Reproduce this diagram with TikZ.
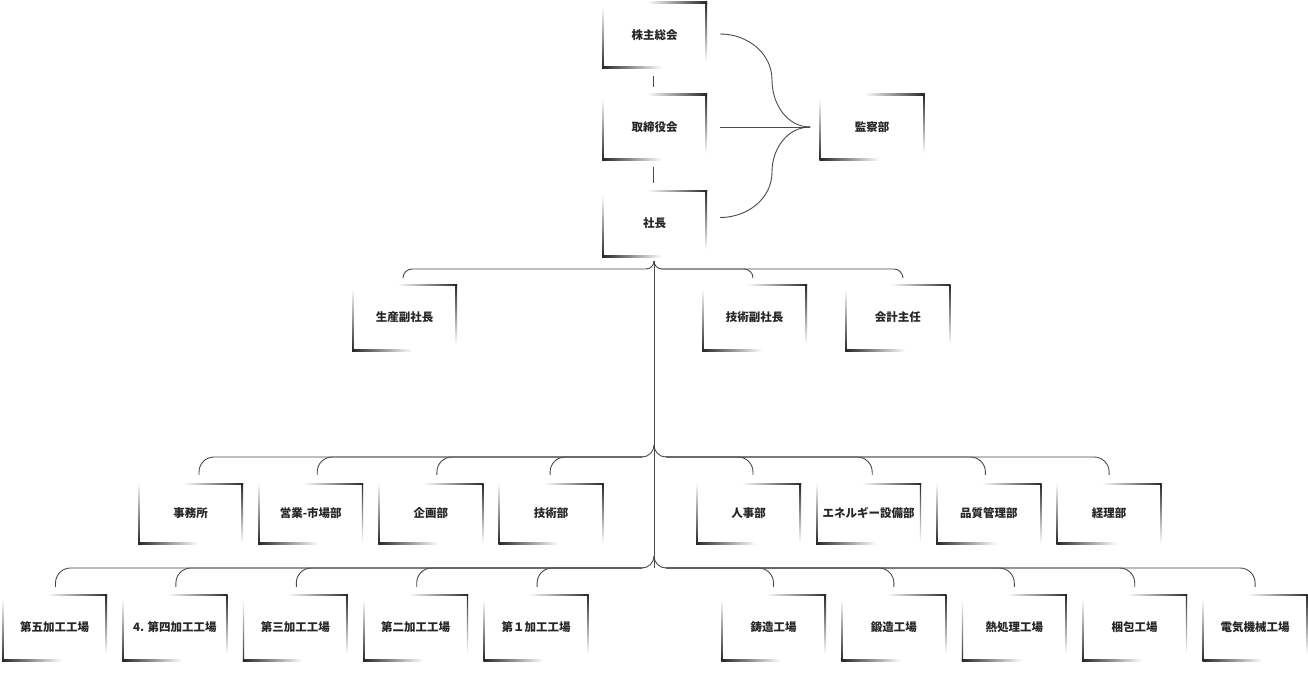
\documentclass[tikz,border=0pt]{standalone}
\usepackage{fontspec}
\newfontfamily\jpfont{Noto Sans CJK JP}
\usetikzlibrary{positioning, calc}
\definecolor{ink}{HTML}{262626}
\definecolor{wirecol}{HTML}{4A4A4A}

\begin{document}
\begin{tikzpicture}[
  x=1pt, y=-1pt,
  font=\jpfont\bfseries\fontsize{11.5}{13}\selectfont,
  card/.style={minimum width=105pt, minimum height=67pt, inner sep=0pt, text=ink,
    path picture={
      \coordinate (ne) at (path picture bounding box.north east);
      \coordinate (sw) at (path picture bounding box.south west);
      \shade[left color=white, right color=ink] ($(ne)+(-60pt,0pt)$) rectangle ($(ne)+(0pt,-1.8pt)$);
      \shade[top color=ink, bottom color=white] ($(ne)+(-1.4pt,0pt)$) rectangle ($(ne)+(0pt,-60pt)$);
      \shade[left color=ink, right color=white] (sw) rectangle ($(sw)+(60pt,1.8pt)$);
      \shade[top color=white, bottom color=ink] (sw) rectangle ($(sw)+(1.3pt,62pt)$);
    }},
  short/.style={minimum height=61pt},
  wire/.style={draw=wirecol, line width=0.9pt},
]
  \useasboundingbox (0,0) rectangle (1308,674);
  % governance
  \node[card] (gm)  at (654.5,35)    {株主総会};
  \node[card] (bd)  at (654.5,127)   {取締役会};
  \node[card] (ceo) at (654.5,223.5) {社長};
  \node[card] (aud) at (872,127)     {監察部};
  % vice presidents
  \node[card] (vpp) at (404.5,317.5)    {生産副社長};
  \node[card] (vpt) at (754.5,317.5)    {技術副社長};
  \node[card, right=38pt of vpt] (acc) {会計主任};
  % departments
  \node[card, short] (gen) at (190.5,513.5) {事務所};
  \node[card, short, right=14.8pt of gen]   (sales) {営業-市場部};
  \node[card, short, right=14.8pt of sales] (plan)  {企画部};
  \node[card, short, right=14.8pt of plan]  (tech)  {技術部};
  \node[card, short] (hr) at (748.5,513.5)  {人事部};
  \node[card, short, right=14.8pt of hr]    (energy) {エネルギー設備部};
  \node[card, short, right=14.8pt of energy] (qa)    {品質管理部};
  \node[card, short, right=14.8pt of qa]    (fin)    {経理部};
  % workshops
  \node[card] (ws5) at (54.5,627.5) {第五加工工場};
  \node[card, right=15pt of ws5] (ws4) {4. 第四加工工場};
  \node[card, right=15pt of ws4] (ws3) {第三加工工場};
  \node[card, right=15pt of ws3] (ws2) {第二加工工場};
  \node[card, right=15pt of ws2] (ws1) {第１加工工場};
  \node[card] (cast) at (773.5,627.5) {鋳造工場};
  \node[card, right=15pt of cast]  (forge) {鍛造工場};
  \node[card, right=15pt of forge] (heat)  {熱処理工場};
  \node[card, right=15pt of heat]  (pack)  {梱包工場};
  \node[card, right=15pt of pack]  (elec)  {電気機械工場};

  % chain of command
  \draw[wire] ([xshift=-1.5pt, yshift=-7pt]gm.south) -- ([xshift=-1.5pt, yshift=6pt]bd.north);
  \draw[wire] ([xshift=-1.5pt, yshift=-6pt]bd.south) -- ([xshift=-1.5pt, yshift=7pt]ceo.north);
  % audit brace
  \coordinate (bup) at (772,80);
  \coordinate (bdn) at (772,172);
  \draw[wire] ([xshift=13pt, yshift=1pt]gm.east) to[out=0, in=90] (bup) to[out=-90, in=180] ([xshift=-9pt]aud.west);
  \draw[wire] ([xshift=13pt]bd.east) -- ([xshift=-9pt]aud.west);
  \draw[wire] ([xshift=13pt, yshift=6pt]ceo.east) to[out=0, in=-90] (bdn) to[out=90, in=180] ([xshift=-9pt]aud.west);

  % trunk and brace tips
  \coordinate (tip2) at (654,261);
  \coordinate (t2l) at (646,269);  \coordinate (t2r) at (662,269);
  \coordinate (tip3) at (654,445);
  \coordinate (t3l) at (642,457);  \coordinate (t3r) at (666,457);
  \coordinate (tip4) at (654,556);
  \coordinate (t4l) at (642,568);  \coordinate (t4r) at (666,568);
  \coordinate (trunkend) at (654,568);
  \draw[wire] (tip2) -- (trunkend);
  \foreach \t/\r in {2/8, 3/12, 4/12} {
    \draw[wire] (tip\t) to[out=-90, in=0] ++(-\r,\r);
    \draw[wire] (tip\t) to[out=-90, in=180] ++(\r,\r);
  }
  % vice president branches
  \draw[wire, rounded corners=9pt] (t2l) -| ([xshift=-1.5pt, yshift=6pt]vpp.north);
  \foreach \n/\d in {vpt/-1.5, acc/5}
    \draw[wire, rounded corners=9pt] (t2r) -| ([xshift=\d pt, yshift=6pt]\n.north);
  % department branches
  \foreach \n/\d in {gen/8.5, sales/6.5, plan/6, tech/-1}
    \draw[wire, rounded corners=15pt] (t3l) -| ([xshift=\d pt, yshift=8pt]\n.north);
  \foreach \n/\d in {hr/4.5, energy/3.5, qa/-3.5, fin/0}
    \draw[wire, rounded corners=15pt] (t3r) -| ([xshift=\d pt, yshift=8pt]\n.north);
  % workshop branches
  \foreach \n in {ws5, ws4, ws3, ws2, ws1}
    \draw[wire, rounded corners=15pt] (t4l) -| ([xshift=1pt, yshift=7pt]\n.north);
  \foreach \n in {cast, forge, heat, pack, elec}
    \draw[wire, rounded corners=15pt] (t4r) -| ([yshift=7pt]\n.north);
\end{tikzpicture}
\end{document}
